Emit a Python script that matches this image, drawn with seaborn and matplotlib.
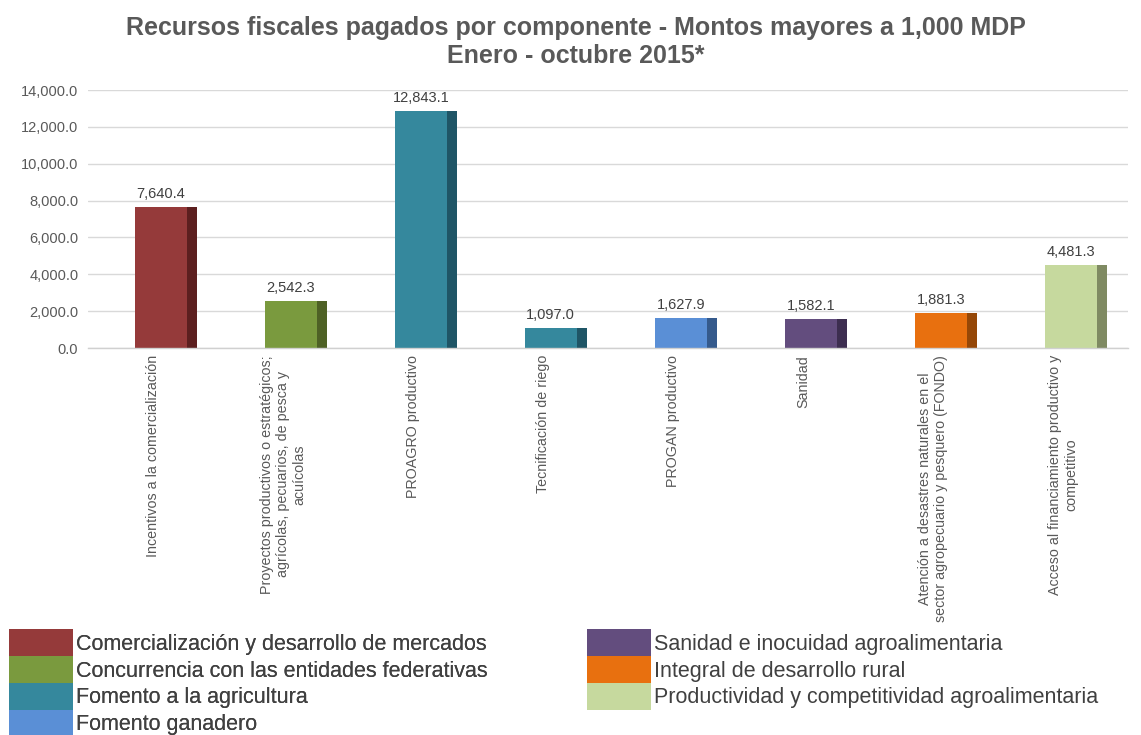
import matplotlib
matplotlib.use('Agg')
import matplotlib.pyplot as plt
import seaborn as sns
import pandas as pd
from matplotlib.patches import Patch
from matplotlib.ticker import FuncFormatter

categories = [
    "Incentivos a la comercialización",
    "Proyectos productivos o estratégicos;\nagrícolas, pecuarios, de pesca y\nacuícolas",
    "PROAGRO productivo",
    "Tecnificación de riego",
    "PROGAN productivo",
    "Sanidad",
    "Atención a desastres naturales en el\nsector agropecuario y pesquero (FONDO)",
    "Acceso al financiamiento productivo y\ncompetitivo",
]
values = [7640.4, 2542.3, 12843.1, 1097.0, 1627.9, 1582.1, 1881.3, 4481.3]
groups = [
    "Comercialización y desarrollo de mercados",
    "Concurrencia con las entidades federativas",
    "Fomento a la agricultura",
    "Fomento a la agricultura",
    "Fomento ganadero",
    "Sanidad e inocuidad agroalimentaria",
    "Integral de desarrollo rural",
    "Productividad y competitividad agroalimentaria",
]
group_order = [
    "Comercialización y desarrollo de mercados",
    "Concurrencia con las entidades federativas",
    "Fomento a la agricultura",
    "Fomento ganadero",
    "Sanidad e inocuidad agroalimentaria",
    "Integral de desarrollo rural",
    "Productividad y competitividad agroalimentaria",
]
face_colors = ["#953a3a", "#7a9a3e", "#35889d", "#5a8fd6", "#634d7e", "#e8700f", "#c6d99e"]
side_colors = ["#5c1f1f", "#4e6125", "#1f5566", "#355a8c", "#3d2e50", "#954707", "#7f8a62"]

sns.set_theme(style="white")
plt.rcParams["font.family"] = ["Liberation Sans", "DejaVu Sans"]

face_map = dict(zip(group_order, face_colors))
side_map = dict(zip(group_order, side_colors))
df = pd.DataFrame({"cat": categories, "val": values, "grp": groups})
face_pal = [face_map[g] for g in groups]
side_pal = [side_map[g] for g in groups]

W, H = 1141, 735
fig = plt.figure(figsize=(W / 100, H / 100), dpi=100)
ax = fig.add_axes([88 / W, 1 - 348 / H, (1128 - 88) / W, 258 / H])

sns.barplot(data=df, x="cat", y="val", hue="cat", palette=side_pal, legend=False,
            width=0.48, saturation=1, ax=ax, errorbar=None)
n1 = len(ax.patches)
sns.barplot(data=df, x="cat", y="val", hue="cat", palette=face_pal, legend=False,
            width=0.40, saturation=1, ax=ax, errorbar=None)
for i, p in enumerate(ax.patches):
    p.set_linewidth(0)
    p.set_x(p.get_x() + (0.10 if i < n1 else 0.06))

for i, v in enumerate(values):
    ax.annotate(f"{v:,.1f}", (i + 0.06, v), xytext=(0, 4.5), textcoords="offset points",
                ha="center", va="bottom", fontsize=10.5, color="#404040")

ax.set_xlim(-0.5, 7.5)
ax.set_ylim(0, 14000)
ax.set_yticks(range(0, 14001, 2000))
ax.yaxis.set_major_formatter(FuncFormatter(lambda v, p: f"{v:,.1f}"))
ax.yaxis.grid(True, color="#d9d9d9", lw=1)
ax.set_axisbelow(True)
for s in ["top", "right", "left"]:
    ax.spines[s].set_visible(False)
ax.spines["bottom"].set_color("#d0d0d0")
ax.spines["bottom"].set_linewidth(1)
ax.set_xlabel("")
ax.set_ylabel("")
ax.set_xticks(range(len(categories)))
ax.set_xticklabels(categories, rotation=90, ha="center", va="top", multialignment="center",
                   fontsize=10.3, color="#595959")
ax.tick_params(axis="both", length=0)
ax.tick_params(axis="x", pad=5)
ax.tick_params(axis="y", pad=7, labelsize=10.5, labelcolor="#595959")

fig.text(0.505, 1 - 42 / H,
         "Recursos fiscales pagados por componente - Montos mayores a 1,000 MDP\nEnero - octubre 2015*",
         ha="center", va="center", fontsize=18, weight="bold", color="#595959", linespacing=1.25)

handles = [Patch(facecolor=face_map[g], edgecolor="none", label=g) for g in group_order]
leg_kw = dict(frameon=False, fontsize=15.5, handlelength=2.95, handleheight=1.55,
              labelspacing=0, handletextpad=0.15, borderpad=0, borderaxespad=0,
              loc="upper left", labelcolor="#404040")
leg1 = fig.legend(handles=handles[:4], bbox_to_anchor=(9 / W, 1 - 629 / H), **leg_kw)
fig.add_artist(leg1)
leg2 = fig.legend(handles=handles[4:], bbox_to_anchor=(587 / W, 1 - 629 / H), **leg_kw)

fig.savefig("out.png", dpi=100)
